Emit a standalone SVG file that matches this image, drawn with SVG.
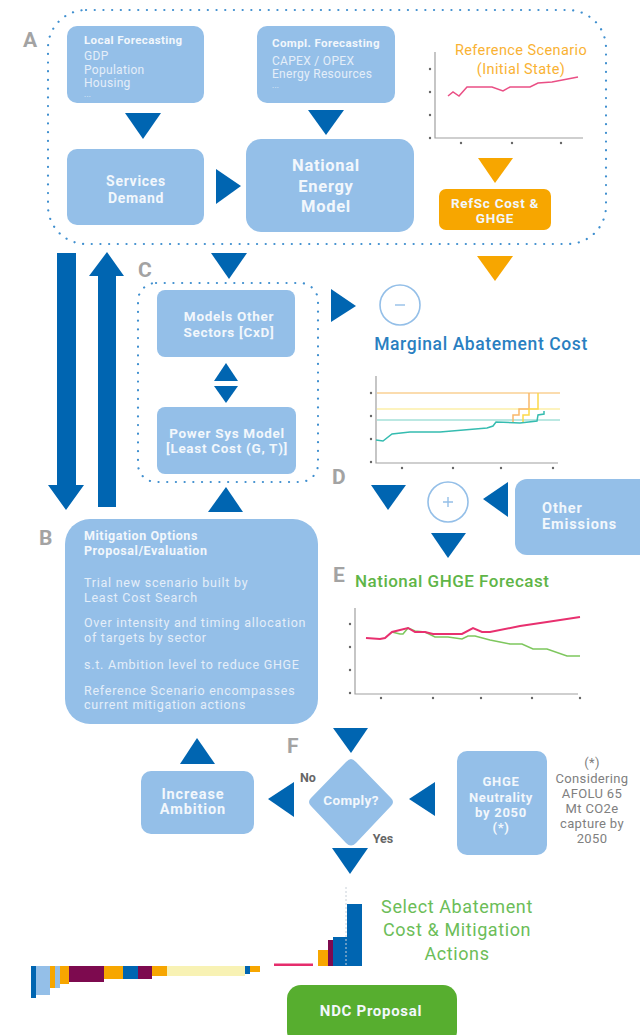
<svg xmlns="http://www.w3.org/2000/svg" width="640" height="1035" viewBox="0 0 640 1035">
<style>
text{font-family:Roboto,"Open Sans",sans-serif}
.box{fill:#94bfe8}
.w{fill:#f2f7fc;text-anchor:middle;font-weight:700;letter-spacing:.7px}
.wl{fill:#e4eef9;font-size:12px;letter-spacing:.3px}
.wm{fill:#e4eef9;font-size:12.500px;letter-spacing:.75px}
.wb{fill:#f2f7fc;font-size:11.500px;font-weight:700;letter-spacing:.4px}
.wt{fill:#f2f7fc;font-size:12.500px;font-weight:700;letter-spacing:.55px}
.ltr{fill:#a3a3a3;font-size:21px;font-weight:700}
.blue{fill:#0065b1}
.or{fill:#f7a600}
.dot{fill:none;stroke:#3f8fcf;stroke-width:2.200;stroke-linecap:round;stroke-dasharray:.1 8.600}
.axis{fill:none;stroke:#a0a0a0;stroke-width:1.200}
.tick{fill:#666}
.gray{fill:#808080;font-size:13px;text-anchor:middle;letter-spacing:.35px}
.sel{font-size:18px;fill:#6cbd58;text-anchor:middle;letter-spacing:.6px}
</style>

<g id="region-a"><rect class="dot" x="48" y="10" width="558" height="234" rx="38"/><text class="ltr" x="23" y="47">A</text></g>
<g id="region-c"><rect class="dot" x="138" y="283" width="180" height="199" rx="18"/><text class="ltr" x="138" y="277">C</text></g>
<text class="ltr" x="332" y="484">D</text>
<text class="ltr" x="333" y="582">E</text>
<text class="ltr" x="39" y="545">B</text>
<text class="ltr" x="287" y="753">F</text>

<g id="local-forecasting"><rect class="box" x="67" y="26" width="137" height="77" rx="10"/>
<text class="wb" x="84" y="44">Local Forecasting</text><text class="wl" x="84" y="60">GDP</text><text class="wl" x="84" y="74">Population</text><text class="wl" x="84" y="87">Housing</text><text class="wl" x="84" y="97" font-size="8" style="font-size:8px">...</text></g>
<g id="compl-forecasting"><rect class="box" x="257" y="26" width="138" height="77" rx="10"/>
<text class="wb" x="272" y="47">Compl. Forecasting</text><text class="wl" x="272" y="65">CAPEX / OPEX</text><text class="wl" x="272" y="78">Energy Resources</text><text class="wl" x="272" y="88" style="font-size:8px">...</text></g>
<g id="services-demand"><rect class="box" x="67" y="149" width="137" height="76" rx="10"/>
<text class="w" font-size="14" x="136" y="186">Services</text><text class="w" font-size="14" x="136" y="203">Demand</text></g>
<g id="national-energy-model"><rect class="box" x="246" y="139" width="168" height="93" rx="15"/>
<text class="w" font-size="16.500" x="326" y="171">National</text><text class="w" font-size="16.500" x="326" y="192">Energy</text><text class="w" font-size="16.500" x="326" y="212">Model</text></g>
<g id="reference-scenario"><text font-size="14.500" fill="#f9b233" text-anchor="middle" letter-spacing=".4" x="521" y="55">Reference Scenario</text><text font-size="14.500" fill="#f9b233" text-anchor="middle" letter-spacing=".4" x="521" y="74">(Initial State)</text>
<path class="axis" d="M435 52V138H583"/>
<path fill="none" stroke="#ea4f85" stroke-width="1.500" d="M448 96L453 92L459 96L467 87L492 87L503 91L510 87L530 87L538 83L552 82L578 77"/>
<g class="tick"><circle cx="430" cy="69" r="1.200"/><circle cx="430" cy="92" r="1.200"/><circle cx="430" cy="115" r="1.200"/><circle cx="430" cy="138" r="1.200"/><circle cx="461" cy="143" r="1.200"/><circle cx="512" cy="143" r="1.200"/><circle cx="561" cy="143" r="1.200"/></g></g>
<g id="refsc-cost"><rect class="or" x="439" y="189" width="112" height="41" rx="7"/>
<text class="w" font-size="13.500" x="495" y="208">RefSc Cost &amp;</text><text class="w" font-size="13.500" x="495" y="223">GHGE</text></g>
<g id="models-other"><rect class="box" x="157" y="290" width="138" height="67" rx="8"/>
<text class="w" font-size="13.500" x="229" y="321">Models Other</text><text class="w" font-size="13.500" x="229" y="337">Sectors [CxD]</text></g>
<g id="power-sys"><rect class="box" x="157" y="407" width="139" height="67" rx="8"/>
<text class="w" font-size="13.500" x="227" y="438">Power Sys Model</text><text class="w" font-size="13.500" x="227" y="453">[Least Cost (G, T)]</text></g>
<g id="mitigation"><rect class="box" x="65" y="519" width="253" height="205" rx="25"/>
<text class="wt" x="84" y="540">Mitigation Options</text><text class="wt" x="84" y="555">Proposal/Evaluation</text>
<text class="wm" x="84" y="587">Trial new scenario built by</text><text class="wm" x="84" y="602">Least Cost Search</text>
<text class="wm" x="84" y="627">Over intensity and timing allocation</text><text class="wm" x="84" y="642">of targets by sector</text>
<text class="wm" x="84" y="669">s.t. Ambition level to reduce GHGE</text>
<text class="wm" x="84" y="695">Reference Scenario encompasses</text><text class="wm" x="84" y="709">current mitigation actions</text></g>
<g id="minus"><circle cx="400" cy="305" r="20" fill="none" stroke="#94bfe8" stroke-width="1.600"/><path d="M395 305H405" stroke="#94bfe8" stroke-width="1.400"/></g>
<text x="481" y="350" font-size="17.500" fill="#2a7fc1" text-anchor="middle" font-weight="500" letter-spacing=".6">Marginal Abatement Cost</text>
<g id="mac-chart"><path class="axis" d="M376 376V463H558"/>
<g fill="none"><path d="M377 393H560" stroke="#fbdcae" stroke-width="2.200"/><path d="M377 409H560" stroke="#fdefa8" stroke-width="1.500"/><path d="M377 420H560" stroke="#a5e0d8" stroke-width="1.500"/>
<path d="M513 422V415H519V409H529V393" stroke="#f9b86a" stroke-width="1.500"/><path d="M523 422V415H529V409H538V393" stroke="#fbd94a" stroke-width="1.500"/>
<path d="M376 440L383 441L392 434L410 432L440 432L487 428L493 426L496 422L520 423L537 421L538 415L544 414L544 411" stroke="#35bcb0" stroke-width="1.500"/></g>
<g class="tick"><circle cx="371" cy="393" r="1.200"/><circle cx="371" cy="416" r="1.200"/><circle cx="371" cy="439" r="1.200"/><circle cx="371" cy="462" r="1.200"/><circle cx="402" cy="468" r="1.200"/><circle cx="453" cy="468" r="1.200"/><circle cx="501" cy="468" r="1.200"/><circle cx="553" cy="468" r="1.200"/></g></g>
<g id="plus"><circle cx="448" cy="502" r="20" fill="none" stroke="#94bfe8" stroke-width="1.600"/><path d="M443 502H453M448 497V507" stroke="#94bfe8" stroke-width="1.400"/></g>
<g id="other-emissions"><rect class="box" x="515" y="479" width="140" height="76" rx="12"/>
<text class="w" font-size="14.500" x="542" y="513" style="text-anchor:start;letter-spacing:.9px">Other</text><text class="w" font-size="14.500" x="542" y="529" style="text-anchor:start;letter-spacing:.9px">Emissions</text></g>
<text x="355" y="587" font-size="17" fill="#5fb548" font-weight="500" letter-spacing=".5">National GHGE Forecast</text>
<g id="ghge-chart"><path class="axis" d="M355 608V694H578"/>
<path fill="none" stroke="#7ec75e" stroke-width="1.600" d="M392 632L400 634L403 634L408 628L415 631L425 632L435 637L448 637L462 639L468 636L475 636L490 640L500 642L510 644L522 644L533 649L547 649L567 656L580 656"/>
<path fill="none" stroke="#e8306f" stroke-width="2" d="M366 638L380 639L385 638L392 632L408 628L415 632L425 632L433 634L462 634L473 628L482 632L490 632L520 626L547 622L580 617"/>
<g class="tick"><circle cx="350" cy="624" r="1.200"/><circle cx="350" cy="647" r="1.200"/><circle cx="350" cy="670" r="1.200"/><circle cx="350" cy="693" r="1.200"/><circle cx="381" cy="698" r="1.200"/><circle cx="433" cy="698" r="1.200"/><circle cx="481" cy="698" r="1.200"/><circle cx="532" cy="698" r="1.200"/><circle cx="580" cy="698" r="1.200"/></g></g>
<g id="increase-ambition"><rect class="box" x="141" y="771" width="113" height="63" rx="10"/>
<text class="w" font-size="14.500" x="193" y="799" style="letter-spacing:.9px">Increase</text><text class="w" font-size="14.500" x="193" y="814" style="letter-spacing:.9px">Ambition</text></g>
<g id="comply"><path class="box" d="M351 759Q353 759 356 762L391 798Q395 802 391 806L356 843Q351 848 346 843L311 806Q307 802 311 798L346 762Q349 759 351 759Z"/>
<text class="w" font-size="13.500" x="351" y="805" style="letter-spacing:.4px">Comply?</text></g>
<text x="308" y="782" fill="#666" font-size="12.500" font-weight="700" text-anchor="middle">No</text>
<text x="383" y="843" fill="#666" font-size="12.500" font-weight="700" text-anchor="middle">Yes</text>
<g id="ghge-neutrality"><rect class="box" x="457" y="751" width="90" height="104" rx="10"/>
<text class="w" font-size="13" x="501" y="786">GHGE</text><text class="w" font-size="13" x="501" y="802">Neutrality</text><text class="w" font-size="13" x="501" y="817">by 2050</text><text class="w" font-size="13" x="501" y="832">(*)</text></g>
<g id="note"><text class="gray" x="592" y="767">(*)</text><text class="gray" x="592" y="783">Considering</text><text class="gray" x="592" y="798">AFOLU 65</text><text class="gray" x="592" y="813">Mt CO2e</text><text class="gray" x="592" y="828">capture by</text><text class="gray" x="592" y="843">2050</text></g>
<g id="select-label"><text class="sel" x="457" y="913">Select Abatement</text><text class="sel" x="457" y="936">Cost &amp; Mitigation</text><text class="sel" x="457" y="960">Actions</text></g>
<g id="abatement-bars">
<rect x="31" y="966" width="5" height="32" fill="#0065b1"/><rect x="36" y="966" width="14" height="29" fill="#94bfe8"/><rect x="50" y="966" width="5" height="22" fill="#f7a600"/><rect x="55" y="966" width="5" height="22" fill="#94bfe8"/><rect x="60" y="966" width="9" height="18" fill="#f7a600"/><rect x="69" y="966" width="35" height="16" fill="#7d0a4f"/><rect x="104" y="966" width="19" height="13" fill="#f7a600"/><rect x="123" y="966" width="15" height="13" fill="#0065b1"/><rect x="138" y="966" width="14" height="13" fill="#7d0a4f"/><rect x="152" y="966" width="15" height="10" fill="#f7a600"/><rect x="167" y="966" width="78" height="10" fill="#f8f2b4"/><rect x="245" y="966" width="5" height="8" fill="#0065b1"/><rect x="250" y="966" width="10" height="6" fill="#f7a600"/>
<rect x="274" y="963.500" width="39" height="2.500" fill="#e52d6c"/><rect x="318" y="950" width="10" height="16" fill="#f7a600"/><rect x="328" y="940" width="5" height="26" fill="#7d0a4f"/><rect x="333" y="937" width="14" height="29" fill="#0065b1"/><rect x="347" y="904" width="15" height="62" fill="#0065b1"/>
<path d="M346 887V966" stroke="#c8d0d8" stroke-width="1" stroke-dasharray="2 2"/></g>
<g id="ndc-proposal"><rect x="287" y="985" width="170" height="60" rx="14" fill="#57ae2f"/><text class="w" font-size="15" x="371" y="1016">NDC Proposal</text></g>

<g id="connectors">
<g class="blue">
<path d="M125 113H161L143 139Z"/><path d="M308 110H344L326 135Z"/><path d="M216 169L241 186L216 204Z"/>
<path d="M211 253H247L229 279Z"/><path d="M331 289L356 306L331 322Z"/>
<path d="M57 253H76V485H84L66 510L48 485H57Z"/><path d="M98 507V276H89L107 252L124 276H116V507Z"/>
<path d="M226 363L238 381H214Z"/><path d="M214 386H238L226 403Z"/>
<path d="M208 512L226 487L243 512Z"/>
<path d="M371 485H406L388 510Z"/><path d="M508 482V517L483 499Z"/><path d="M431 533H466L448 558Z"/>
<path d="M333 728H368L351 753Z"/><path d="M180 764H215L197 738Z"/><path d="M294 782V817L268 799Z"/><path d="M435 782V816L409 799Z"/><path d="M332 848H368L350 874Z"/>
</g>
<g class="or"><path d="M478 158H513L495 183Z"/><path d="M477 256H513L495 281Z"/></g>
</g>
</svg>
